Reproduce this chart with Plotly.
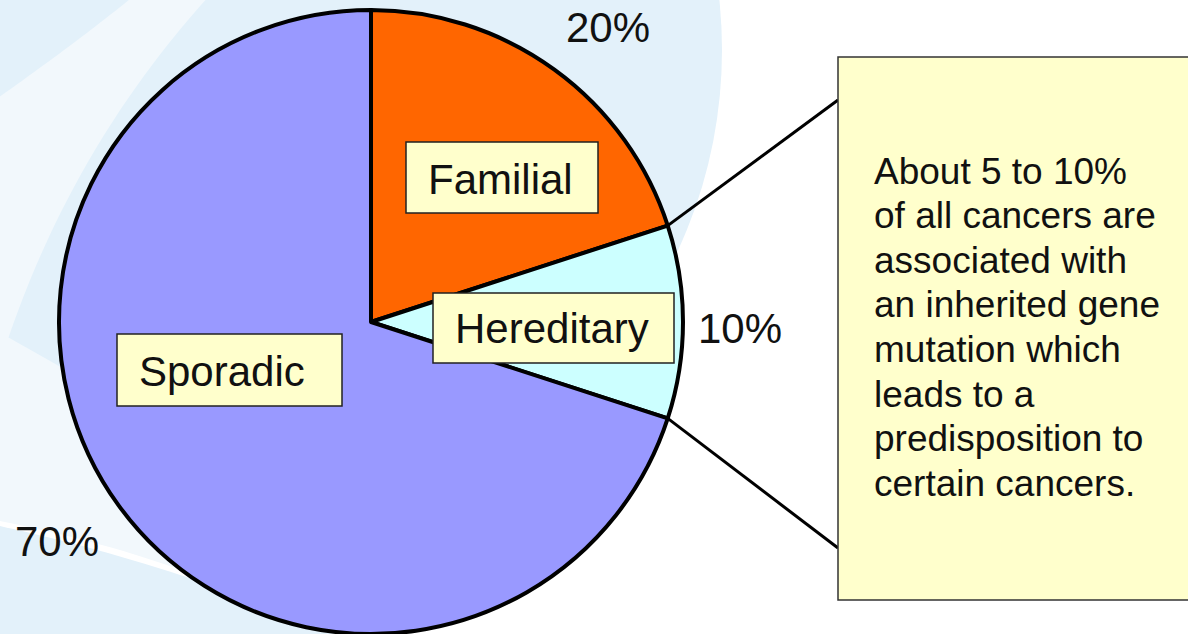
import math
import plotly.graph_objects as go

# ---------------- data ----------------
categories = ["Familial", "Hereditary", "Sporadic"]
values = [20, 10, 70]
pct_labels = ["20%", "10%", "70%"]
slice_colors = ["#FF6600", "#CCFFFF", "#9999FF"]
callout_lines = [
    "About 5 to 10%",
    "of all cancers are",
    "associated with",
    "an inherited gene",
    "mutation which",
    "leads to a",
    "predisposition to",
    "certain cancers.",
]

W, H = 1188, 634
FONT = "Liberation Sans, Arial, sans-serif"
TXT = "#111111"


def px(x):
    return x / W


def py(y):
    return 1 - y / H


# pie geometry (pixels)
cx, cy, r = 371, 322, 312

fig = go.Figure()
fig.add_trace(go.Pie(
    labels=categories,
    values=values,
    sort=False,
    direction="clockwise",
    rotation=0,
    marker=dict(colors=slice_colors, line=dict(color="black", width=4)),
    textinfo="none",
    hoverinfo="label+percent",
    showlegend=False,
    domain=dict(x=[px(cx - r), px(cx + r)], y=[py(cy + r), py(cy - r)]),
))

shapes = []


# ---------------- decorative background ----------------
def path_str(pts, closed=True):
    s = "M " + " L ".join(f"{px(x):.5f},{py(y):.5f}" for x, y in pts)
    return s + (" Z" if closed else "")


def curve_pts(p0, c, p1, n=30):
    out = []
    for i in range(n + 1):
        t = i / n
        x = (1 - t) ** 2 * p0[0] + 2 * (1 - t) * t * c[0] + t ** 2 * p1[0]
        y = (1 - t) ** 2 * p0[1] + 2 * (1 - t) * t * c[1] + t ** 2 * p1[1]
        out.append((x, y))
    return out


BLUE = "#E3F1FA"
PALE = "#F2F8FC"
# big blue halo behind pie
shapes.append(dict(type="circle", xref="paper", yref="paper", layer="below",
                   x0=px(-200), x1=px(722), y0=py(520), y1=py(-420),
                   fillcolor=BLUE, line=dict(width=0)))
# pale swoosh on the upper left
sw = curve_pts((210, -5), (60, 160), (-5, 380)) + [(-5, 100)] + curve_pts((-5, 100), (80, 40), (135, -5))
shapes.append(dict(type="path", xref="paper", yref="paper", layer="below",
                   path=path_str(sw), fillcolor=PALE, line=dict(width=0)))
# pale lower-left band
band = curve_pts((-5, 330), (120, 400), (330, 520)) + [(330, 640)] + curve_pts((330, 640), (200, 560), (-5, 520))
shapes.append(dict(type="path", xref="paper", yref="paper", layer="below",
                   path=path_str(band), fillcolor=PALE, line=dict(width=0)))
# bottom-left blue band
bb = curve_pts((-5, 525), (160, 560), (360, 640)) + [(-5, 640)]
shapes.append(dict(type="path", xref="paper", yref="paper", layer="below",
                   path=path_str(bb), fillcolor=BLUE, line=dict(width=0)))

# ---------------- callout connector lines (from slice boundaries) ----------------
total = sum(values)
cum = 0
bounds = []
for v in values:
    cum += v
    bounds.append(cum / total * 360)
box_left, box_top, box_bottom = 838, 57, 600
for ang, ty in [(bounds[0], 100), (bounds[1], 548)]:
    a = math.radians(ang)
    x0, y0 = cx + r * math.sin(a), cy - r * math.cos(a)
    shapes.append(dict(type="line", xref="paper", yref="paper", layer="above",
                       x0=px(x0), y0=py(y0), x1=px(box_left), y1=py(ty),
                       line=dict(color="black", width=3)))

# callout box
shapes.append(dict(type="rect", xref="paper", yref="paper", layer="above",
                   x0=px(box_left), x1=px(1200), y0=py(box_bottom), y1=py(box_top),
                   fillcolor="#FFFFCC", line=dict(color="#333333", width=1.5)))

# label boxes
label_boxes = {
    "Familial": (406, 142, 598, 213),
    "Hereditary": (433, 293, 674, 363),
    "Sporadic": (117, 334, 342, 406),
}
for name in categories:
    x0, y0, x1, y1 = label_boxes[name]
    shapes.append(dict(type="rect", xref="paper", yref="paper", layer="above",
                       x0=px(x0), x1=px(x1), y0=py(y1), y1=py(y0),
                       fillcolor="#FFFFCC", line=dict(color="#222222", width=1.5)))

annotations = []
label_pos = {"Familial": (500, 179), "Hereditary": (552, 328), "Sporadic": (222, 371)}
for name in categories:
    x, y = label_pos[name]
    annotations.append(dict(xref="paper", yref="paper", x=px(x), y=py(y),
                            text=name, showarrow=False, xanchor="center", yanchor="middle",
                            font=dict(family=FONT, size=42, color=TXT)))

pct_pos = [(608, 28), (740, 328), (57, 541)]
for t, (x, y) in zip(pct_labels, pct_pos):
    annotations.append(dict(xref="paper", yref="paper", x=px(x), y=py(y),
                            text=t, showarrow=False, xanchor="center", yanchor="middle",
                            font=dict(family=FONT, size=42, color=TXT)))

body_size = 37
base0, step = 184, 44.6
for i, line in enumerate(callout_lines):
    yb = base0 + i * step
    annotations.append(dict(xref="paper", yref="paper", x=px(872), y=py(yb - 0.3465 * body_size),
                            text=line, showarrow=False, xanchor="left", yanchor="middle",
                            font=dict(family=FONT, size=body_size, color=TXT)))

fig.update_layout(
    width=W, height=H,
    margin=dict(l=0, r=0, t=0, b=0),
    paper_bgcolor="#FFFFFF",
    plot_bgcolor="#FFFFFF",
    shapes=shapes,
    annotations=annotations,
    showlegend=False,
)

fig.write_html(
    "out.html",
    config={"displayModeBar": False},
    post_script="document.body.style.margin='0';document.body.style.overflow='hidden';",
)
